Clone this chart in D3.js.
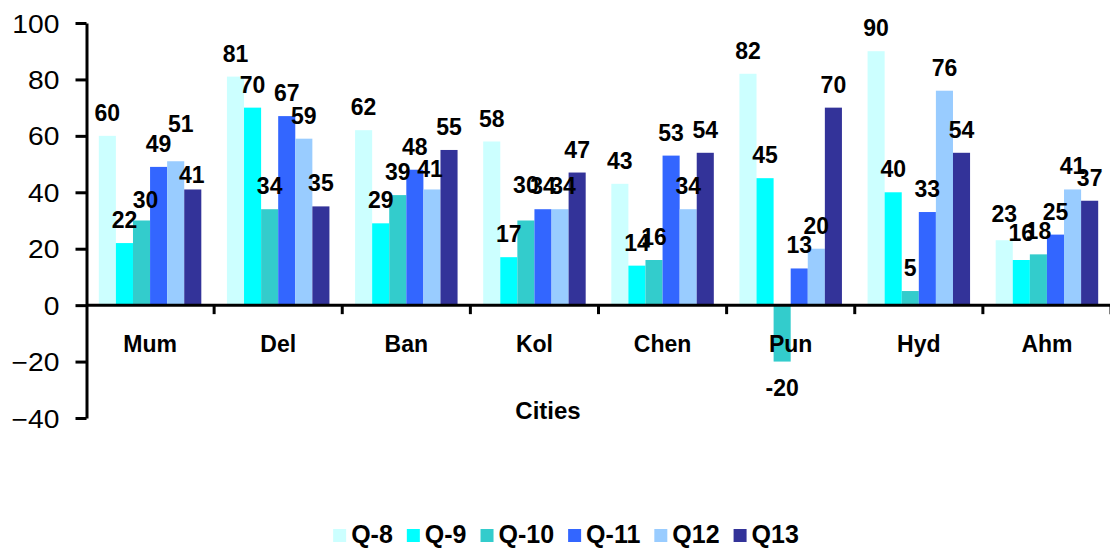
<!DOCTYPE html>
<html>
<head>
<meta charset="utf-8">
<script src="https://cdn.jsdelivr.net/npm/d3@7"></script>
<style>
  html, body { margin: 0; padding: 0; background: #fff; }
  svg { display: block; font-family: "Liberation Sans", Arial, sans-serif; }
</style>
</head>
<body>
<svg id="chart" width="1110" height="549"></svg>
<script>
// Survey responses by city, one series per question
const categories = ["Mum", "Del", "Ban", "Kol", "Chen", "Pun", "Hyd", "Ahm"];
const seriesNames = ["Q-8", "Q-9", "Q-10", "Q-11", "Q12", "Q13"];
const q8  = [60, 81, 62, 58, 43, 82, 90, 23];
const q9  = [22, 70, 29, 17, 14, 45, 40, 16];
const q10 = [30, 34, 39, 30, 16, -20, 5, 18];
const q11 = [49, 67, 48, 34, 53, 13, 33, 25];
const q12 = [51, 59, 41, 34, 34, 20, 76, 41];
const q13 = [41, 35, 55, 47, 54, 70, 54, 37];
const seriesColors = ["#CCFFFF", "#00FFFF", "#33CCCC", "#3366FF", "#99CCFF", "#333399"];
const yTicks = [-40, -20, 0, 20, 40, 60, 80, 100];
const xTitle = "Cities";

const seriesValues = [q8, q9, q10, q11, q12, q13];

// Hand-placed label nudges (dx, dy in px) where neighbouring labels collide
const labelNudge = {
  "Mum|Q-10": [4, 2],
  "Mum|Q12": [5, -14],
  "Mum|Q13": [-1, 9],
  "Ban|Q12": [-2, 3],
  "Kol|Q-10": [0, -13],
  "Kol|Q12": [3, 0],
  "Ahm|Q-9": [0, -4],
  "Ahm|Q-8": [0, -3]
};

const svg = d3.select("#chart");
const plot = { left: 86, right: 1111, top: 23, bottom: 418 };

const y = d3.scaleLinear().domain([-40, 100]).range([plot.bottom, plot.top]);
const x0 = d3.scaleBand().domain(categories)
  .range([plot.left, plot.right]).paddingInner(0.2).paddingOuter(0.1);
const x1 = d3.scaleBand().domain(seriesNames).range([0, x0.bandwidth()]);
const step = x0.step();
const gapHalf = (step - x0.bandwidth()) / 2;

// Bars
const groups = svg.append("g").selectAll("g")
  .data(categories)
  .join("g")
  .attr("transform", d => `translate(${x0(d)},0)`);

const cells = (c, ci) => seriesNames.map((s, si) => ({ c, s, si, v: seriesValues[si][ci] }));

groups.selectAll("rect")
  .data(cells)
  .join("rect")
  .attr("x", d => x1(d.s))
  .attr("width", x1.bandwidth())
  .attr("y", d => Math.min(y(d.v), y(0)))
  .attr("height", d => Math.abs(y(d.v) - y(0)))
  .attr("fill", d => seriesColors[d.si]);

// Y axis
const yAxis = svg.append("g")
  .attr("transform", `translate(${plot.left + 0.5},0)`)
  .call(d3.axisLeft(y).tickValues(yTicks).tickSize(11).tickSizeOuter(0).tickFormat(d3.format("d")));
yAxis.select(".domain").attr("stroke", "#000").attr("stroke-width", 3);
yAxis.selectAll(".tick line").attr("stroke", "#000").attr("stroke-width", 3);
yAxis.selectAll(".tick text")
  .attr("x", -24)
  .attr("dy", "0.36em")
  .attr("transform", "scale(1.13,1)")
  .attr("font-size", 25)
  .attr("font-family", "'Liberation Sans', Arial, sans-serif")
  .attr("fill", "#000");

// X axis line at zero with ticks between categories
const xAxis = svg.append("g");
xAxis.append("line")
  .attr("x1", plot.left).attr("x2", plot.right)
  .attr("y1", y(0)).attr("y2", y(0))
  .attr("stroke", "#000").attr("stroke-width", 3);
xAxis.selectAll("line.tick")
  .data(categories)
  .join("line")
  .attr("class", "tick")
  .attr("x1", d => x0(d) + x0.bandwidth() + gapHalf)
  .attr("x2", d => x0(d) + x0.bandwidth() + gapHalf)
  .attr("y1", y(0)).attr("y2", y(0) + 9)
  .attr("stroke", "#000").attr("stroke-width", 3);
xAxis.selectAll("text")
  .data(categories)
  .join("text")
  .attr("x", d => x0(d) + x0.bandwidth() / 2)
  .attr("y", y(0) + 47)
  .attr("text-anchor", "middle")
  .attr("font-size", 23)
  .attr("font-weight", "bold")
  .text(d => d);

svg.append("text")
  .attr("x", 548).attr("y", 419)
  .attr("text-anchor", "middle")
  .attr("font-size", 24)
  .attr("font-weight", "bold")
  .text(xTitle);

// Value labels
groups.selectAll("text")
  .data(cells)
  .join("text")
  .attr("x", d => x1(d.s) + x1.bandwidth() / 2 + (labelNudge[d.c + "|" + d.s] || [0, 0])[0])
  .attr("y", d => (d.v >= 0 ? y(d.v) - 15 : y(d.v) + 34) + (labelNudge[d.c + "|" + d.s] || [0, 0])[1])
  .attr("text-anchor", "middle")
  .attr("font-size", 23)
  .attr("font-weight", "bold")
  .attr("fill", "#000")
  .text(d => d.v);

// Legend
const legend = svg.append("g");
const items = legend.selectAll("g").data(seriesNames).join("g");
items.append("rect")
  .attr("width", 13).attr("height", 13)
  .attr("y", 529)
  .attr("fill", (d, i) => seriesColors[i]);
items.append("text")
  .attr("x", 18).attr("y", 543)
  .attr("font-size", 25)
  .attr("font-weight", "bold")
  .text(d => d);
let cx = 0;
items.each(function () {
  const g = d3.select(this);
  const w = 18 + g.select("text").node().getComputedTextLength();
  g.attr("transform", `translate(${cx},0)`);
  cx += w + 14;
});
const total = cx - 14;
legend.attr("transform", `translate(${566 - total / 2},0)`);
</script>
</body>
</html>
